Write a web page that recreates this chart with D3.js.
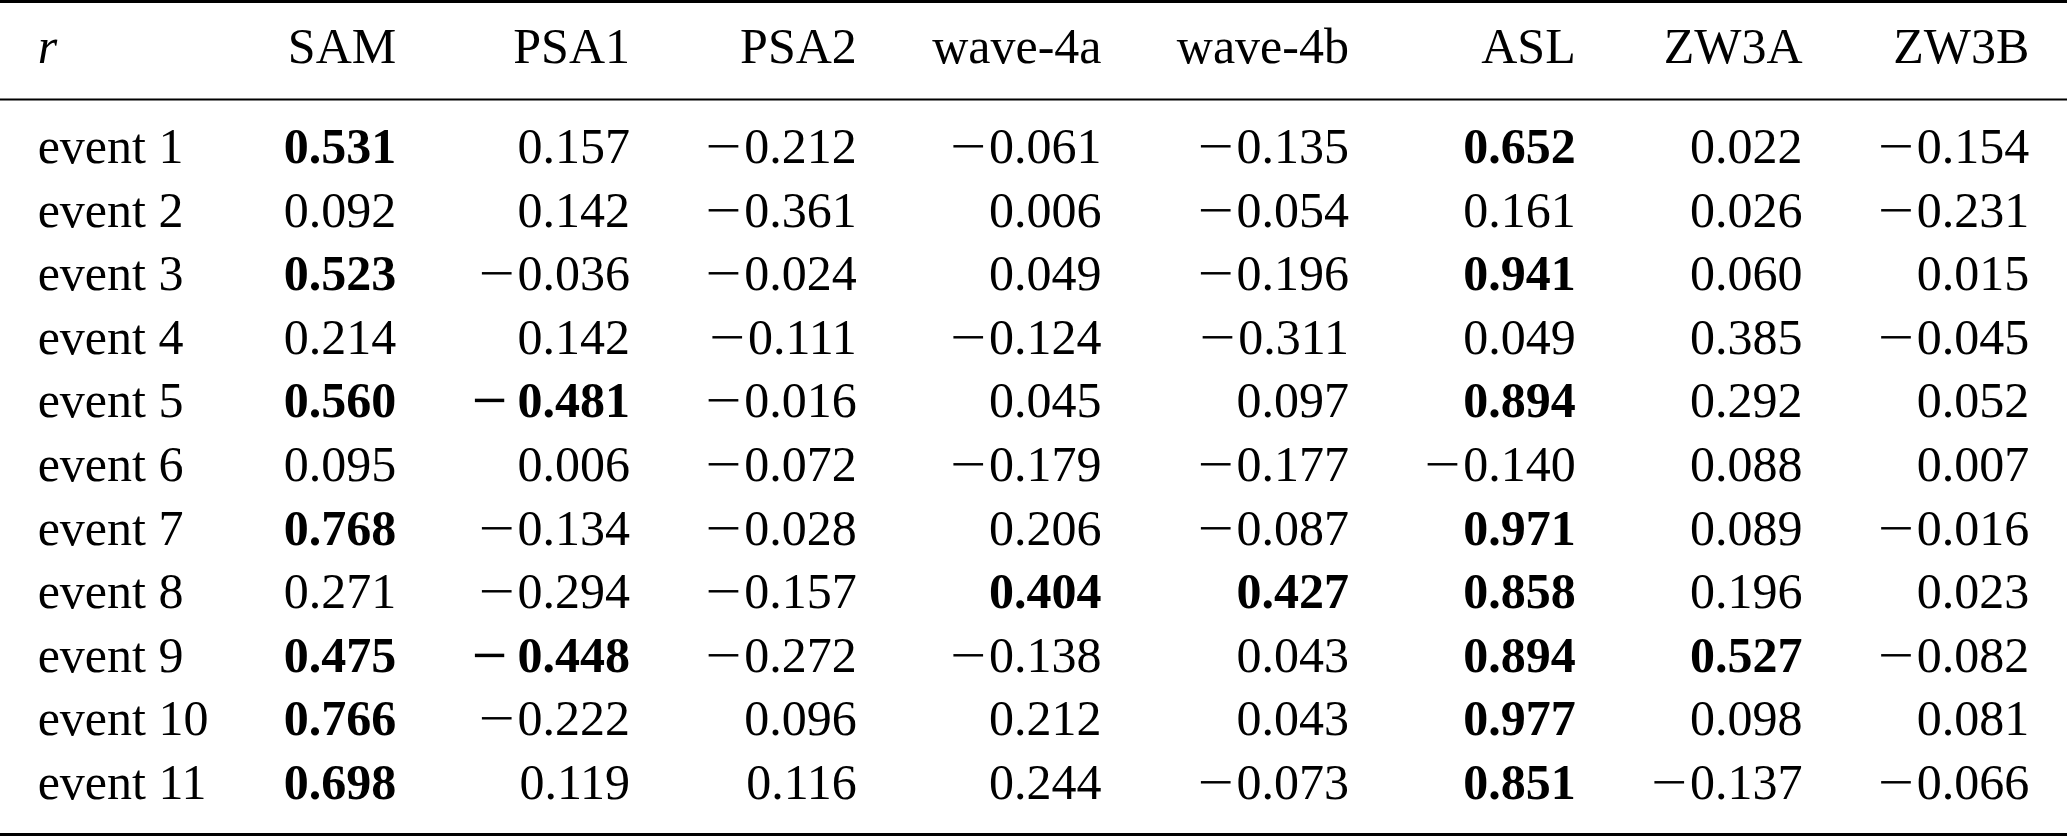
<!DOCTYPE html>
<html>
<head>
<meta charset="utf-8">
<script src="https://cdn.jsdelivr.net/npm/d3@7"></script>
<style>
  html, body { margin: 0; padding: 0; background: #fff; }
  svg text { font-family: "Liberation Serif", "Times New Roman", serif; font-size: 50px; fill: #000; }
</style>
</head>
<body>
<div id="table-container"></div>
<script>
// correlation of each event with the climate modes
var columns = ["SAM", "PSA1", "PSA2", "wave-4a", "wave-4b", "ASL", "ZW3A", "ZW3B"];
var events = ["event 1", "event 2", "event 3", "event 4", "event 5", "event 6",
              "event 7", "event 8", "event 9", "event 10", "event 11"];

var SAM    = [0.531, 0.092, 0.523, 0.214, 0.560, 0.095, 0.768, 0.271, 0.475, 0.766, 0.698];
var PSA1   = [0.157, 0.142, -0.036, 0.142, -0.481, 0.006, -0.134, -0.294, -0.448, -0.222, 0.119];
var PSA2   = [-0.212, -0.361, -0.024, -0.111, -0.016, -0.072, -0.028, -0.157, -0.272, 0.096, 0.116];
var wave4a = [-0.061, 0.006, 0.049, -0.124, 0.045, -0.179, 0.206, 0.404, -0.138, 0.212, 0.244];
var wave4b = [-0.135, -0.054, -0.196, -0.311, 0.097, -0.177, -0.087, 0.427, 0.043, 0.043, -0.073];
var ASL    = [0.652, 0.161, 0.941, 0.049, 0.894, -0.140, 0.971, 0.858, 0.894, 0.977, 0.851];
var ZW3A   = [0.022, 0.026, 0.060, 0.385, 0.292, 0.088, 0.089, 0.196, 0.527, 0.098, -0.137];
var ZW3B   = [-0.154, -0.231, 0.015, -0.045, 0.052, 0.007, -0.016, 0.023, -0.082, 0.081, -0.066];

// significant values (event numbers) printed in bold
var boldSAM    = [1, 3, 5, 7, 9, 10, 11];
var boldPSA1   = [5, 9];
var boldPSA2   = [];
var boldWave4a = [8];
var boldWave4b = [8];
var boldASL    = [1, 3, 5, 7, 8, 9, 10, 11];
var boldZW3A   = [9];
var boldZW3B   = [];

var series = [SAM, PSA1, PSA2, wave4a, wave4b, ASL, ZW3A, ZW3B];
var bolds = [boldSAM, boldPSA1, boldPSA2, boldWave4a, boldWave4b, boldASL, boldZW3A, boldZW3B];

var width = 2067, height = 836;
var fontSize = 50;
var fmt = d3.format(".3f");

var svg = d3.select("#table-container").append("svg")
    .attr("width", width)
    .attr("height", height);

// build cells
var cells = [];
series.forEach(function(vals, c){
    vals.forEach(function(v, i){
        cells.push({col: c, row: i, value: v, bold: bolds[c].indexOf(i + 1) >= 0});
    });
});

var y = d3.scaleLinear().domain([0, events.length - 1]).range([163, 799]);
var headerY = 63;

// rules (booktabs style)
var rules = [{y: 1.5, w: 3}, {y: 99.5, w: 2}, {y: 834.5, w: 3}];
svg.selectAll("line.rule").data(rules).enter().append("line")
    .attr("class", "rule")
    .attr("x1", 0).attr("x2", width)
    .attr("y1", function(d){ return d.y; })
    .attr("y2", function(d){ return d.y; })
    .attr("stroke", "#000")
    .attr("stroke-width", function(d){ return d.w; });

// header
var rLabel = svg.append("text")
    .attr("y", headerY)
    .style("font-style", "italic")
    .text("r");

var heads = svg.selectAll("text.head").data(columns).enter().append("text")
    .attr("class", "head")
    .attr("y", headerY)
    .attr("text-anchor", "end")
    .text(function(d){ return d; });

// row labels
var labels = svg.selectAll("text.event").data(events).enter().append("text")
    .attr("class", "event")
    .attr("y", function(d, i){ return y(i); })
    .text(function(d){ return d; });

// values, the minus sign is widened like a math minus
var vals = svg.selectAll("text.cell").data(cells).enter().append("text")
    .attr("class", "cell")
    .attr("y", function(d){ return y(d.row); })
    .attr("text-anchor", "end")
    .style("font-weight", function(d){ return d.bold ? "bold" : "normal"; });

vals.filter(function(d){ return d.value < 0; })
    .append("tspan")
    .attr("textLength", 0.72 * fontSize)
    .attr("lengthAdjust", "spacingAndGlyphs")
    .text("\u2212");

vals.append("tspan")
    .attr("dx", function(d){ return d.value < 0 ? (d.bold ? 0.2 : 0.06) * fontSize : 0; })
    .text(function(d){ return fmt(Math.abs(d.value)); });

// measure column widths like a tabular would
var firstW = d3.max(labels.nodes().concat([rLabel.node()]), function(n){ return n.getBBox().width; });
var colW = columns.map(function(name, c){
    var w = heads.filter(function(d, i){ return i === c; }).node().getBBox().width;
    vals.filter(function(d){ return d.col === c; }).each(function(){
        w = Math.max(w, this.getBBox().width);
    });
    return w;
});
var sep = (width - firstW - d3.sum(colW)) / (2 * (columns.length + 1));

var colRight = [];
var xPos = 2 * sep + firstW;
colW.forEach(function(w){
    xPos += sep + w;
    colRight.push(xPos);
    xPos += sep;
});
var xCol = d3.scaleOrdinal().domain(d3.range(columns.length)).range(colRight);

rLabel.attr("x", sep);
labels.attr("x", sep);
heads.attr("x", function(d, i){ return xCol(i); });
vals.attr("x", function(d){ return xCol(d.col); });
</script>
</body>
</html>
